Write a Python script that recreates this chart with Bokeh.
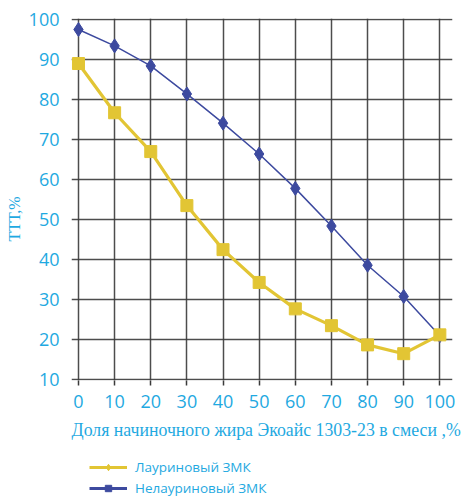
from bokeh.plotting import figure
from bokeh.layouts import column
from bokeh.models import Legend, LegendItem, FixedTicker, ColumnDataSource, Title
from bokeh.embed import file_html
from bokeh.resources import INLINE

share = [0, 10, 20, 30, 40, 50, 60, 70, 80, 90, 100]
lauric = [89.0, 76.7, 67.0, 53.5, 42.5, 34.3, 27.7, 23.5, 18.7, 16.5, 21.2]
nonlauric = [97.5, 93.4, 88.4, 81.4, 74.1, 66.4, 57.8, 48.4, 38.6, 30.8, 21.0]
x_ticks = [0, 10, 20, 30, 40, 50, 60, 70, 80, 90, 100]
y_ticks = [10, 20, 30, 40, 50, 60, 70, 80, 90, 100]
x_title = "Доля начиночного жира Экоайс 1303-23  в смеси ,%"
y_title = "ТТТ,%"
name_lauric = "Лауриновый ЗМК"
name_nonlauric = "Нелауриновый ЗМК"

CYAN = "#1FA9E1"
YELLOW = "#E2C534"
BLUE = "#3D4A9F"
GRID = "#3a3a3a"

p = figure(width=468, height=455, output_backend="svg",
           toolbar_location=None, x_range=(-1.93, 103.5), y_range=(9.8, 100.25),
           min_border_top=18, min_border_right=16, min_border_left=69, min_border_bottom=75)
p.outline_line_color = None
p.background_fill_color = "white"

for ax in (p.xaxis[0], p.yaxis[0]):
    ax.axis_line_color = None
    ax.major_label_text_color = CYAN
    ax.major_label_text_font = "Open Sans"
    ax.major_label_text_font_size = "18px"
    ax.minor_tick_line_color = None

p.xaxis.ticker = FixedTicker(ticks=x_ticks)
p.yaxis.ticker = FixedTicker(ticks=y_ticks)
p.xaxis.major_tick_line_color = GRID
p.xaxis.major_tick_line_width = 1.5
p.xaxis.major_tick_in = 0
p.xaxis.major_tick_out = 5
p.xaxis.major_label_standoff = 9
p.yaxis.major_tick_line_color = None
p.yaxis.major_label_standoff = 6

p.add_layout(Title(text=x_title, align="left", offset=0, standoff=14,
                   text_color=CYAN, text_font="Liberation Serif",
                   text_font_size="17.8px", text_font_style="normal"), "below")
p.add_layout(Title(text=y_title, align="left", offset=139, standoff=6,
                   text_color=CYAN, text_font="Liberation Serif",
                   text_font_size="16px", text_font_style="normal"), "left")

p.xgrid.ticker = FixedTicker(ticks=x_ticks)
p.ygrid.ticker = FixedTicker(ticks=y_ticks)
for g in (p.xgrid[0], p.ygrid[0]):
    g.grid_line_color = GRID
    g.grid_line_width = 1.5
    g.grid_line_alpha = 0.9

src = ColumnDataSource(dict(x=share, a=lauric, b=nonlauric))
p.line("x", "b", source=src, color=BLUE, line_width=1.5)
p.scatter("x", "b", source=src, marker="diamond", size=14, color=BLUE)
p.line("x", "a", source=src, color=YELLOW, line_width=3.2)
p.scatter("x", "a", source=src, marker="square", size=12, color=YELLOW)

# legend strip (glyphs as in the original legend); its data lies outside the strip's view
lg = figure(width=468, height=44, output_backend="svg", toolbar_location=None,
            x_range=(0, 1), y_range=(0, 1), x_axis_type=None, y_axis_type=None,
            min_border=0)
lg.outline_line_color = None
lg.grid.visible = False
la_l = lg.line("x", "a", source=src, color=YELLOW, line_width=3)
la_m = lg.scatter("x", "a", source=src, marker="diamond", size=16, color=YELLOW)
nl_l = lg.line("x", "b", source=src, color=BLUE, line_width=3)
nl_m = lg.scatter("x", "b", source=src, marker="square", size=11, color=BLUE)

legend = Legend(items=[LegendItem(label=name_lauric, renderers=[la_l, la_m]),
                       LegendItem(label=name_nonlauric, renderers=[nl_l, nl_m])],
                location=(18, 2), orientation="vertical",
                label_text_color=CYAN, label_text_font="Open Sans",
                label_text_font_size="13.5px", glyph_width=38, glyph_height=16,
                label_height=16, spacing=3, padding=2, margin=0,
                border_line_color=None, background_fill_alpha=0,
                label_standoff=8)
lg.add_layout(legend)

layout = column(p, lg, spacing=0)
open("out.html", "w").write(file_html(layout, INLINE))
